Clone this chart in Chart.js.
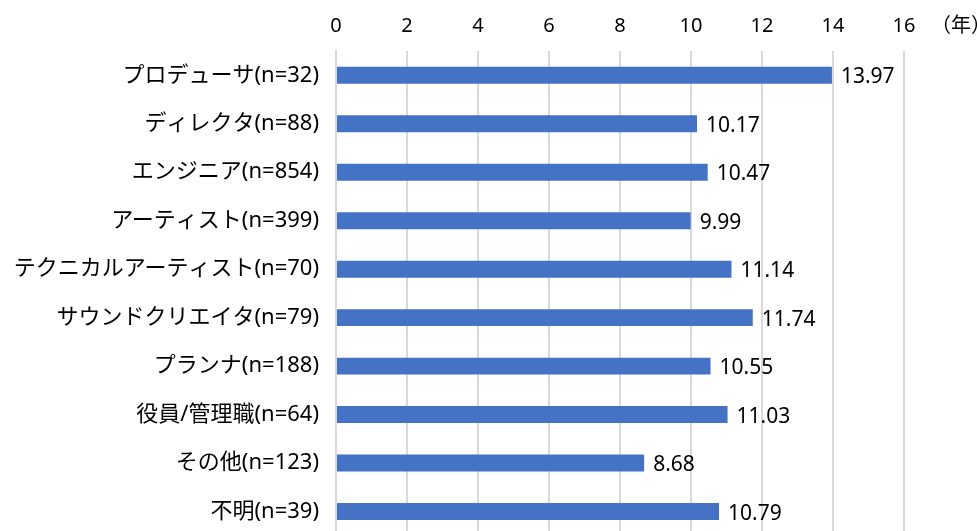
<!DOCTYPE html>
<html>
<head>
<meta charset="utf-8">
<script src="https://cdn.jsdelivr.net/npm/chart.js@4/dist/chart.umd.min.js"></script>
<style>
  html, body { margin: 0; padding: 0; background: #fff; overflow: hidden; }
  #wrap { position: relative; width: 977px; height: 566px; }
</style>
</head>
<body>
<div id="wrap"><canvas id="c"></canvas></div>
<script>
// 職種別の平均経験年数
const categories = [
  'プロデューサ(n=32)',
  'ディレクタ(n=88)',
  'エンジニア(n=854)',
  'アーティスト(n=399)',
  'テクニカルアーティスト(n=70)',
  'サウンドクリエイタ(n=79)',
  'プランナ(n=188)',
  '役員/管理職(n=64)',
  'その他(n=123)',
  '不明(n=39)'
];
const years = [13.97, 10.17, 10.47, 9.99, 11.14, 11.74, 10.55, 11.03, 8.68, 10.79];
const xTicks = [0, 2, 4, 6, 8, 10, 12, 14, 16];
const unitLabel = '（年）';

const FONT = "'Noto Sans', 'Noto Sans CJK JP', sans-serif";

// 棒の右に値を、軸の右上に単位を描く
const valueLabels = {
  id: 'valueLabels',
  afterDatasetsDraw(chart) {
    const ctx = chart.ctx;
    const meta = chart.getDatasetMeta(0);
    ctx.save();
    ctx.font = '21px ' + FONT;
    ctx.fillStyle = '#000';
    ctx.textAlign = 'left';
    ctx.textBaseline = 'middle';
    meta.data.forEach((bar, i) => {
      ctx.fillText(years[i].toFixed(2), bar.x + 9, bar.y + 2);
    });
    ctx.font = '20px ' + FONT;
    ctx.textBaseline = 'alphabetic';
    ctx.fillText(unitLabel, 931, 32);
    ctx.restore();
  }
};

new Chart(document.getElementById('c'), {
  type: 'bar',
  data: {
    labels: categories,
    datasets: [{
      data: years,
      backgroundColor: '#4472C4',
      borderWidth: 0,
      barPercentage: 0.7,
      categoryPercentage: 0.5
    }]
  },
  options: {
    indexAxis: 'y',
    responsive: true,
    maintainAspectRatio: false,
    animation: false,
    layout: { padding: { left: 0, right: 73, top: 0, bottom: 0 } },
    plugins: { legend: { display: false }, tooltip: { enabled: false } },
    scales: {
      x: {
        position: 'top',
        min: 0,
        max: 16,
        afterBuildTicks(scale) { scale.ticks = xTicks.map(v => ({ value: v })); },
        afterFit(scale) { scale.height = 51; },
        grid: { color: '#d9d9d9', lineWidth: 2, drawTicks: false },
        border: { display: false },
        ticks: { color: '#000', font: { family: FONT, size: 20 }, padding: 13 }
      },
      y: {
        afterFit(scale) { scale.width = 336; },
        grid: { display: false, drawTicks: false },
        border: { display: true, color: '#d9d9d9', width: 2 },
        ticks: { color: '#000', font: { family: FONT, size: 22 }, padding: 17 }
      }
    }
  },
  plugins: [valueLabels]
});
</script>
</body>
</html>
